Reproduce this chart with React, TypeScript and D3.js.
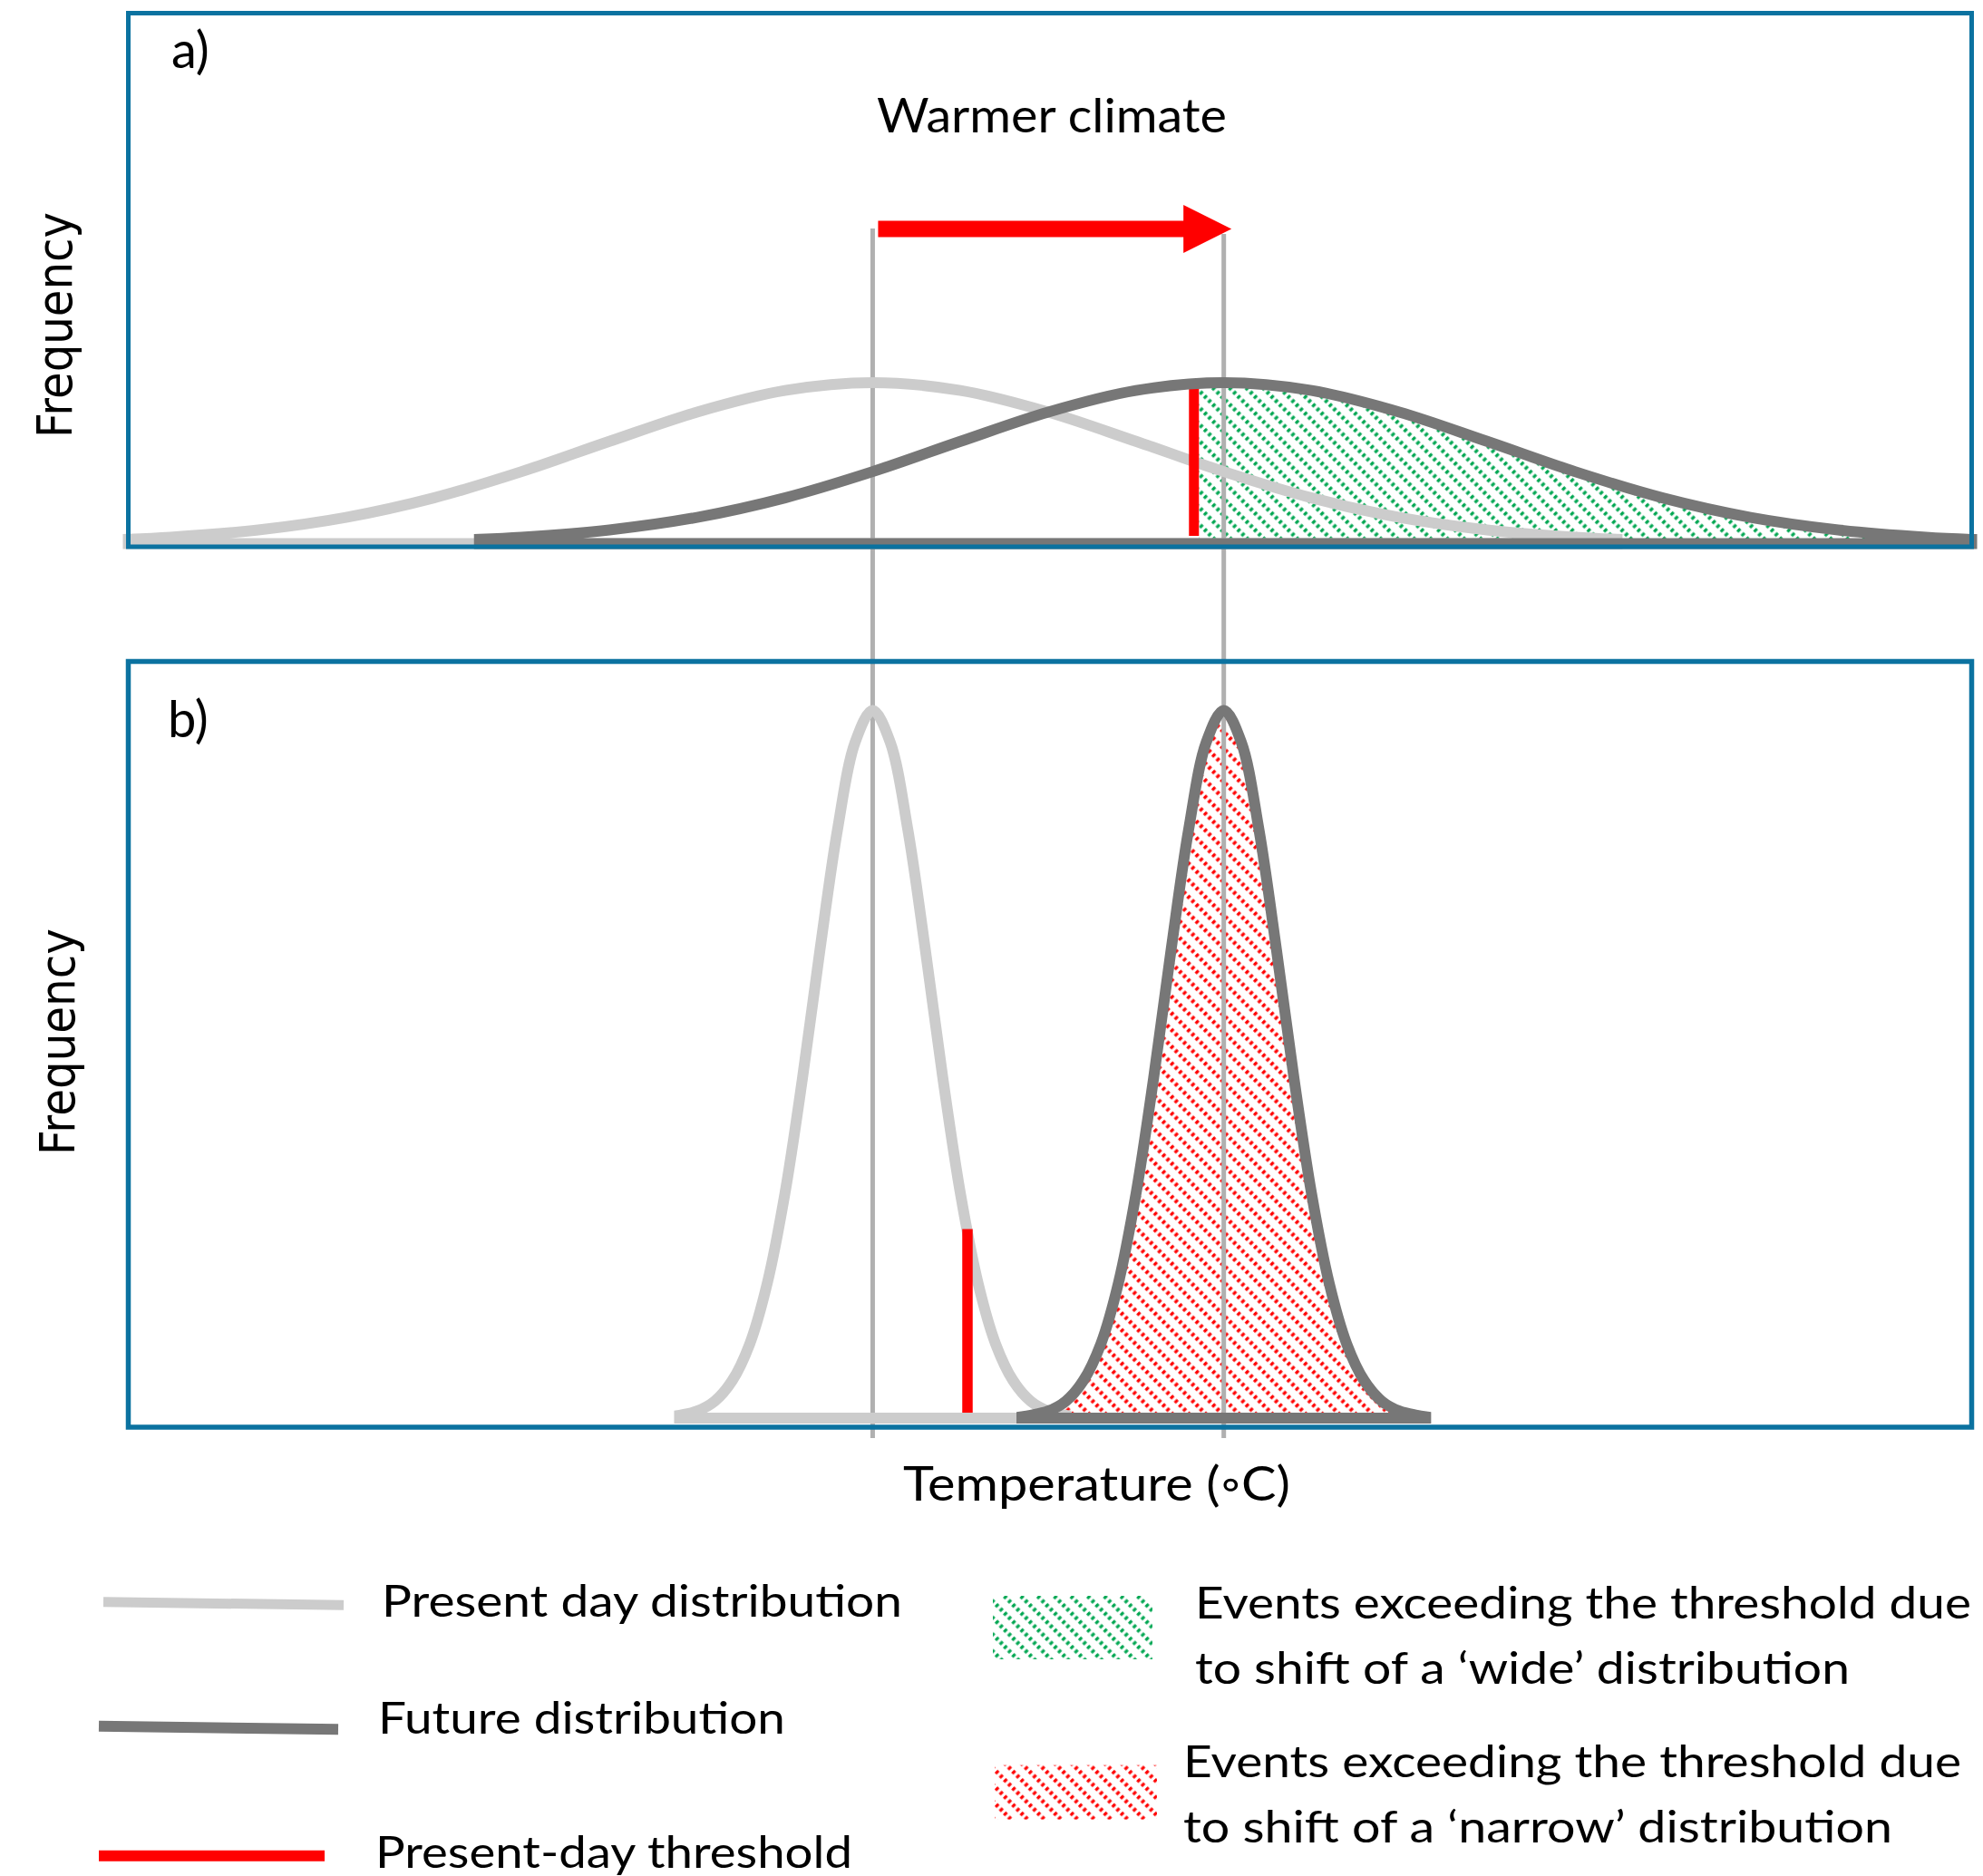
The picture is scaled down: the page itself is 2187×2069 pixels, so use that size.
import React from 'react';
import * as d3 from 'd3';

const W = 2187;
const H = 2069;

// temperature (arbitrary °C offsets from the present mean) and relative frequency
const presentWideTemp = [-4.24, -4, -3.5, -3, -2.5, -2, -1.5, -1, -0.5, 0, 0.5, 1, 1.5, 2, 2.5, 3, 3.5, 4, 4.24];
const presentWideFreq = [0.027, 0.04, 0.085, 0.163, 0.284, 0.447, 0.635, 0.817, 0.951, 1, 0.951, 0.817, 0.635, 0.447, 0.284, 0.163, 0.085, 0.04, 0.027];
const futureWideTemp = [-2.24, -2, -1.5, -1, -0.5, 0, 0.5, 1, 1.5, 2, 2.5, 3, 3.5, 4, 4.5, 5, 5.5, 6, 6.26];
const futureWideFreq = [0.027, 0.04, 0.085, 0.163, 0.284, 0.447, 0.635, 0.817, 0.951, 1, 0.951, 0.817, 0.635, 0.447, 0.284, 0.163, 0.085, 0.04, 0.026];

const presentNarrowTemp = [-1.1, -1, -0.9, -0.8, -0.7, -0.6, -0.5, -0.4, -0.3, -0.2, -0.1, 0, 0.1, 0.2, 0.3, 0.4, 0.5, 0.6, 0.7, 0.8, 0.9, 1, 1.1];
const presentNarrowFreq = [0.004, 0.01, 0.024, 0.053, 0.105, 0.191, 0.317, 0.48, 0.662, 0.832, 0.955, 1, 0.955, 0.832, 0.662, 0.48, 0.317, 0.191, 0.105, 0.053, 0.024, 0.01, 0.004];
const futureNarrowTemp = [0.85, 0.9, 1, 1.1, 1.2, 1.3, 1.4, 1.5, 1.6, 1.7, 1.8, 1.9, 2, 2.1, 2.2, 2.3, 2.4, 2.5, 2.6, 2.7, 2.8, 2.9, 3, 3.1, 3.15];
const futureNarrowFreq = [0.002, 0.004, 0.01, 0.024, 0.053, 0.105, 0.191, 0.317, 0.48, 0.662, 0.832, 0.955, 1, 0.955, 0.832, 0.662, 0.48, 0.317, 0.191, 0.105, 0.053, 0.024, 0.01, 0.004, 0.002];

const means = [0, 2];
// present-day threshold: position and the height the red bar reaches
const thresholdTemp = [1.83, 0.54];
const thresholdTop = [0.965, 0.267];

const lineLegend = ['Present day distribution', 'Future distribution', 'Present-day threshold'];
const lineLegendColors = ['#cccccc', '#777777', '#ff0000'];
const hatchLegend = [
  ['Events exceeding the threshold due', 'to shift of a \u2018wide\u2019 distribution'],
  ['Events exceeding the threshold due', 'to shift of a \u2018narrow\u2019 distribution'],
];

const BORDER = '#0b72a0';
const LIGHT = '#cccccc';
const DARK = '#777777';
const RED = '#ff0000';
const GREEN = '#00a651';
const VLINE = '#b0b0b0';
const SANS = 'Lato, "Open Sans", sans-serif';

const zip = (t: number[], f: number[]) => t.map((v, i) => [v, f[i]] as [number, number]);

export default function App() {
  const x = d3.scaleLinear().domain([-4.24, 6.26]).range([141.5, 2174.5]);
  const yA = d3.scaleLinear().domain([0, 1]).range([599.5, 422]);
  const yB = d3.scaleLinear().domain([0, 1]).range([1564, 783.5]);

  const shape = (y: d3.ScaleLinear<number, number>) =>
    d3.area<[number, number]>()
      .x(d => x(d[0]))
      .y0(y(0))
      .y1(d => y(d[1]))
      .curve(d3.curveCatmullRom);

  const areaA = shape(yA);
  const areaB = shape(yB);

  const presentWide = zip(presentWideTemp, presentWideFreq);
  const futureWide = zip(futureWideTemp, futureWideFreq);
  const presentNarrow = zip(presentNarrowTemp, presentNarrowFreq);
  const futureNarrow = zip(futureNarrowTemp, futureNarrowFreq);

  const m0 = x(means[0]);
  const m1 = x(means[1]);

  // arrow
  const ax0 = m0 + 6;
  const axTip = m1 + 8.5;
  const axHead = axTip - 53;
  const arrow = `M${ax0},243.5 L${axHead},243.5 L${axHead},226 L${axTip},252.5 L${axHead},279 L${axHead},261.5 L${ax0},261.5 Z`;

  const legendText = { fontFamily: SANS, fontSize: 48, lengthAdjust: 'spacingAndGlyphs' as const };

  return (
    <svg width={W} height={H} style={{ position: 'absolute', left: 0, top: 0, background: '#fff' }}>
      <defs>
        <pattern id="hatchGreen" patternUnits="userSpaceOnUse" width={13} height={13} patternTransform="rotate(-45)">
          <line x1={6.5} y1={0} x2={6.5} y2={13} stroke={GREEN} strokeWidth={4.5} strokeDasharray="3.25 3.25" />
        </pattern>
        <pattern id="hatchRed" patternUnits="userSpaceOnUse" width={13} height={13} patternTransform="rotate(-45)">
          <line x1={6.5} y1={0} x2={6.5} y2={13} stroke={RED} strokeWidth={4.5} strokeDasharray="3.25 3.25" />
        </pattern>
        <clipPath id="clipExceed">
          <rect x={x(thresholdTemp[0]) + 5.5} y={380} width={2174.5 - x(thresholdTemp[0]) - 5.5} height={222} />
        </clipPath>
      </defs>

      {/* panel a */}
      <path d={areaA(futureWide) ?? ''} fill="url(#hatchGreen)" clipPath="url(#clipExceed)" />
      {/* panel b */}
      <path d={areaB(futureNarrow) ?? ''} fill="url(#hatchRed)" />

      {/* mean markers */}
      <line x1={m0} x2={m0} y1={252} y2={1586} stroke={VLINE} strokeWidth={5} />
      <line x1={m1} x2={m1} y1={258} y2={1586} stroke={VLINE} strokeWidth={5} />

      <path d={areaA(presentWide) ?? ''} fill="none" stroke={LIGHT} strokeWidth={12} />
      <line x1={x(thresholdTemp[0])} x2={x(thresholdTemp[0])} y1={yA(thresholdTop[0])} y2={yA(0) - 8.5} stroke={RED} strokeWidth={11} />
      <path d={areaA(futureWide) ?? ''} fill="none" stroke={DARK} strokeWidth={12} />

      <path d={areaB(presentNarrow) ?? ''} fill="none" stroke={LIGHT} strokeWidth={12} />
      <line x1={x(thresholdTemp[1])} x2={x(thresholdTemp[1])} y1={yB(thresholdTop[1])} y2={yB(0) - 6} stroke={RED} strokeWidth={11.5} />
      <path d={areaB(futureNarrow) ?? ''} fill="none" stroke={DARK} strokeWidth={12} />

      {/* frames */}
      <rect x={141.5} y={14.5} width={2033} height={588.5} fill="none" stroke={BORDER} strokeWidth={5} />
      <rect x={141.5} y={729.5} width={2033} height={844.5} fill="none" stroke={BORDER} strokeWidth={5.5} />

      <path d={arrow} fill={RED} />

      <text x={967} y={146} fontFamily={SANS} fontSize={53} textLength={386} lengthAdjust="spacingAndGlyphs">Warmer climate</text>
      <text x={189} y={75} fontFamily={SANS} fontSize={56}>a)</text>
      <text x={185} y={813} fontFamily={SANS} fontSize={56}>b)</text>

      <text transform="translate(78.6,358.5) rotate(-90)" textAnchor="middle" fontFamily="DejaVu Sans" fontSize={53} textLength={249} lengthAdjust="spacingAndGlyphs">Frequency</text>
      <text transform="translate(82,1149) rotate(-90)" textAnchor="middle" fontFamily="DejaVu Sans" fontSize={53} textLength={250} lengthAdjust="spacingAndGlyphs">Frequency</text>

      <text x={996} y={1655} fontFamily={SANS} fontSize={51.5} textLength={427} lengthAdjust="spacingAndGlyphs">{'Temperature (\u25E6C)'}</text>

      {/* legend: lines */}
      <line x1={114} y1={1766.7} x2={379} y2={1770.3} stroke={lineLegendColors[0]} strokeWidth={11} />
      <line x1={109} y1={1903.7} x2={373} y2={1907.3} stroke={lineLegendColors[1]} strokeWidth={12} />
      <line x1={109} y1={2046.7} x2={358} y2={2046.7} stroke={lineLegendColors[2]} strokeWidth={12} />
      <text x={421} y={1782.7} {...legendText} textLength={574}>{lineLegend[0]}</text>
      <text x={417} y={1911.7} {...legendText} textLength={449}>{lineLegend[1]}</text>
      <text x={414} y={2060} {...legendText} textLength={526}>{lineLegend[2]}</text>

      {/* legend: hatches */}
      <rect x={1095} y={1760} width={176} height={70} fill="url(#hatchGreen)" />
      <rect x={1097} y={1946.7} width={179} height={60} fill="url(#hatchRed)" />
      <text x={1318} y={1785} {...legendText} textLength={856}>{hatchLegend[0][0]}</text>
      <text x={1318} y={1856.7} {...legendText} textLength={722}>{hatchLegend[0][1]}</text>
      <text x={1305} y={1960} {...legendText} textLength={858}>{hatchLegend[1][0]}</text>
      <text x={1305} y={2031.7} {...legendText} textLength={782}>{hatchLegend[1][1]}</text>
    </svg>
  );
}
